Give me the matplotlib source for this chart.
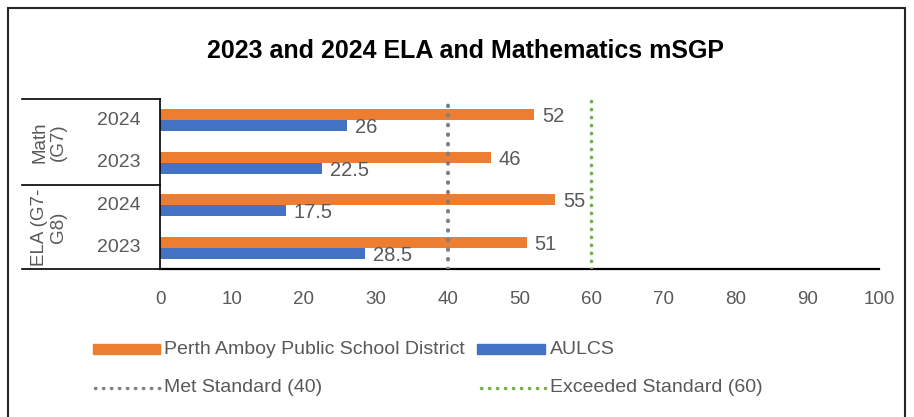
import matplotlib
matplotlib.use('Agg')
import matplotlib.pyplot as plt
from matplotlib.lines import Line2D
from matplotlib.patches import Rectangle

plt.rcParams['font.family'] = ['Liberation Sans', 'DejaVu Sans']

# data, top to bottom
years = ['2024', '2023', '2024', '2023']
groups = ['Math\n(G7)', 'ELA (G7-\nG8)']
district = [52, 46, 55, 51]
aulcs = [26, 22.5, 17.5, 28.5]
met_standard = 40
exceeded_standard = 60

ORANGE = '#ED7D31'
BLUE = '#4472C4'
GRAY_TXT = '#595959'

W, H = 914, 417
fig = plt.figure(figsize=(W / 100, H / 100), dpi=100)

def fx(px):
    return px / W

def fy(py):
    return 1 - py / H

ax = fig.add_axes([fx(160), fy(269), fx(879) - fx(160), fy(99) - fy(269)])

n = len(years)
ypos = [n - 1 - i for i in range(n)]
bh = 0.26
ax.barh([y + 0.13 for y in ypos], district, height=bh, color=ORANGE, zorder=2)
ax.barh([y - 0.13 for y in ypos], aulcs, height=bh, color=BLUE, zorder=2)

for y, d, a in zip(ypos, district, aulcs):
    ax.text(d + 1.1, y + 0.08, f'{d:g}', va='center', ha='left', fontsize=14.5, color=GRAY_TXT)
    ax.text(a + 1.1, y - 0.18, f'{a:g}', va='center', ha='left', fontsize=14.5, color=GRAY_TXT)

ax.axvline(met_standard, color='#7F7F7F', linestyle=(0, (0.1, 2.2)), linewidth=3,
           dash_capstyle='round', zorder=3)
ax.axvline(exceeded_standard, color='#70AD47', linestyle=(0, (0.1, 2.2)), linewidth=2.5,
           dash_capstyle='round', zorder=3)

ax.set_xlim(0, 100)
ax.set_ylim(-0.5, n - 0.5)
ax.set_xticks(range(0, 101, 10))
ax.tick_params(axis='x', length=0, labelsize=13.5, labelcolor=GRAY_TXT, pad=16)
ax.set_yticks([])
for s in ['top', 'right']:
    ax.spines[s].set_visible(False)
ax.spines['bottom'].set_linewidth(1.6)
ax.spines['left'].set_linewidth(1.2)

# category hierarchy on the left
for py in [99, 185, 269]:
    fig.add_artist(Line2D([fx(22), fx(160)], [fy(py), fy(py)], color='black', lw=1.2))
for y, lab in zip(ypos, years):
    yy = fy(269) + (y + 0.5) / n * (fy(99) - fy(269))
    fig.text(fx(141), yy, lab, ha='right', va='center', fontsize=14, color=GRAY_TXT)
fig.text(fx(49), (fy(99) + fy(185)) / 2, groups[0], ha='center', va='center',
         rotation=90, fontsize=13.5, color=GRAY_TXT, linespacing=1.15)
fig.text(fx(49), (fy(185) + fy(269)) / 2, groups[1], ha='center', va='center',
         rotation=90, fontsize=13.5, color=GRAY_TXT, linespacing=1.15)

fig.text(fx(466), fy(51), '2023 and 2024 ELA and Mathematics mSGP', ha='center',
         va='center', fontsize=18, fontweight='bold', color='black')

# legend, drawn by hand to match the two-row layout
def patch(x0, x1, py, color):
    fig.add_artist(Rectangle((fx(x0), fy(py + 5)), fx(x1) - fx(x0), fy(py - 5) - fy(py + 5),
                             color=color, transform=fig.transFigure))

patch(93, 160, 349, ORANGE)
fig.text(fx(164), fy(349), 'Perth Amboy Public School District', va='center', fontsize=14, color=GRAY_TXT)
patch(477, 545, 349, BLUE)
fig.text(fx(550), fy(349), 'AULCS', va='center', fontsize=14, color=GRAY_TXT)
fig.add_artist(Line2D([fx(95), fx(160)], [fy(388), fy(388)], color='#7F7F7F',
                      linestyle=(0, (0.1, 2.2)), lw=2.5, dash_capstyle='round'))
fig.text(fx(164), fy(388), 'Met Standard (40)', va='center', fontsize=14, color=GRAY_TXT)
fig.add_artist(Line2D([fx(481), fx(545)], [fy(388), fy(388)], color='#70AD47',
                      linestyle=(0, (0.1, 2.2)), lw=2.5, dash_capstyle='round'))
fig.text(fx(550), fy(388), 'Exceeded Standard (60)', va='center', fontsize=14, color=GRAY_TXT)

# outer chart frame
fig.add_artist(Rectangle((fx(8), fy(430)), fx(905) - fx(8), fy(8) - fy(430), fill=False,
                         edgecolor='#262626', lw=1.5, transform=fig.transFigure))

fig.savefig('out.png', dpi=100)
